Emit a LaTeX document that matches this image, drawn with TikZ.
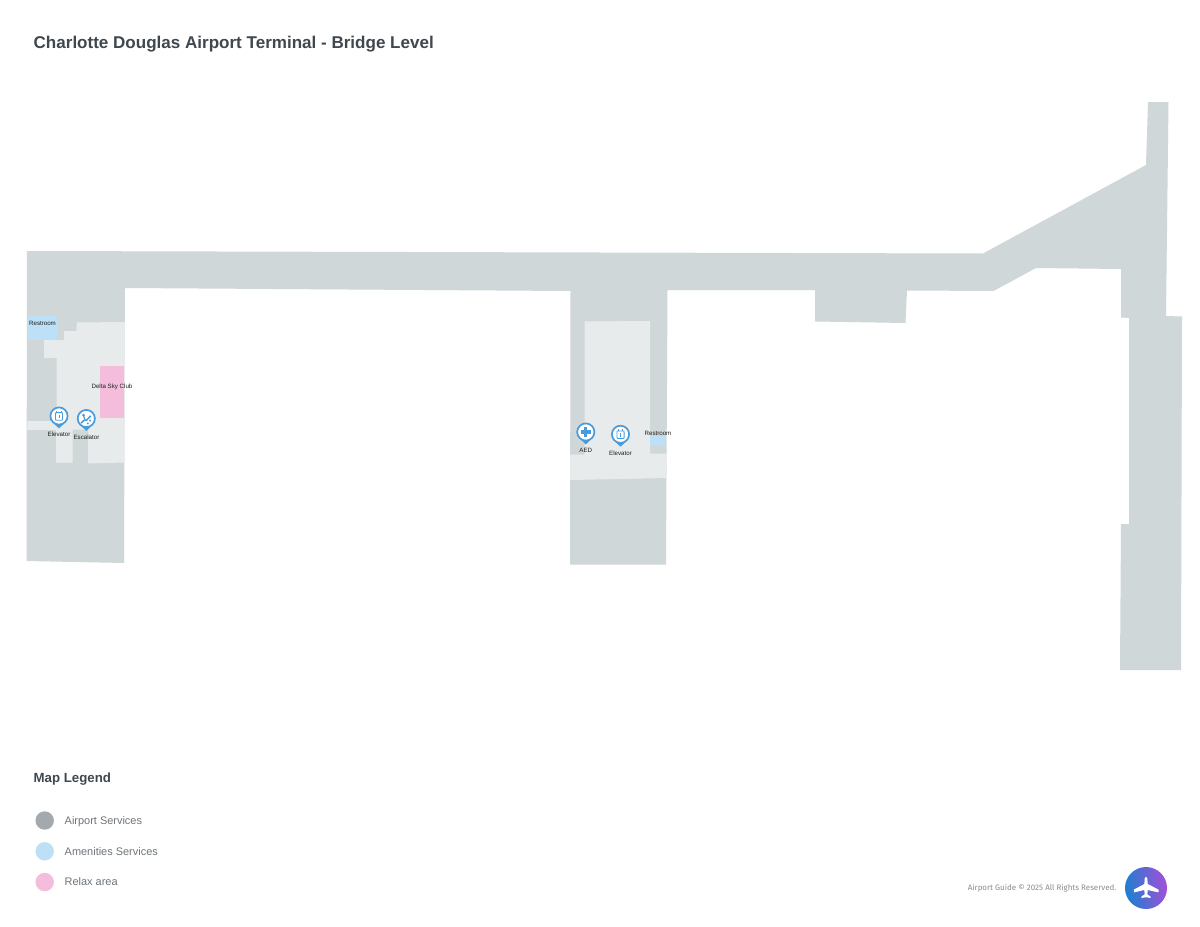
\documentclass[tikz,border=0pt]{standalone}
\usepackage{fontspec}
\setmainfont{Liberation Sans}
\newfontfamily\footfont{Fira Sans}
\definecolor{floorgray}{HTML}{D0D7D9}
\definecolor{floorlight}{HTML}{E8EBEC}
\definecolor{amenity}{HTML}{BEE0F7}
\definecolor{relax}{HTML}{F4BDDC}
\definecolor{service}{HTML}{A2AAAF}
\definecolor{pinblue}{HTML}{4A9BDC}
\definecolor{titleink}{HTML}{3F474F}
\definecolor{legendink}{HTML}{6E757B}
\definecolor{logoblue}{HTML}{1C80D0}
\definecolor{logopurple}{HTML}{A24FD8}
\tikzset{
  floor/.style={fill=floorgray,draw=none},
  lightfloor/.style={fill=floorlight,draw=none},
  maplabel/.style={font=\fontsize{6.2}{7}\selectfont,text=black!88,inner sep=0pt},
  legendlabel/.style={font=\fontsize{11}{13}\selectfont,text=legendink,anchor=base west,inner sep=0pt},
  headline/.style={text=titleink,anchor=base west,inner sep=0pt},
  legenddot/.style={circle,minimum size=18.5,inner sep=0pt,draw=none},
  pinicon/.style={draw=pinblue,line width=0.8,fill=none},
  pin/.pic={
    \fill[pinblue] (-4.8,7.8) -- (0,12.4) -- (4.8,7.8) -- cycle;
    \draw[pinblue,fill=white,line width=1.7] (0,0) circle (8.6);
  }
}
\begin{document}
\begin{tikzpicture}[x=1bp,y=-1bp]
\useasboundingbox (0,0) rectangle (1200,927);
\fill[white] (0,0) rectangle (1200,927);
% terminal
\fill[floor] (27,251) -- (983,253.5) -- (1146,165) -- (1148,102) -- (1168.5,102) -- (1166,316) -- (1182,316.5)
  -- (1181,670) -- (1120,670) -- (1121,524) -- (1129,524) -- (1129,318) -- (1121,317.5) -- (1121,269) -- (1036,268)
  -- (993.5,291) -- (907,290.5) -- (905.5,323) -- (815,321.5) -- (815,290) -- (667.5,290) -- (666,564.5) -- (570,564.5)
  -- (570.5,291) -- (125,288) -- (124,563) -- (26.5,561) -- cycle;
% walkable areas
\fill[lightfloor] (125,322) -- (76.5,322.5) -- (76.5,331) -- (64,331) -- (64,340) -- (44,340) -- (44,358) -- (56.5,358)
  -- (56.5,421) -- (27.3,421) -- (27.3,430) -- (56,430) -- (56,462.5) -- (72.5,462.5) -- (72.5,429.5) -- (88,429.5)
  -- (88,463.5) -- (124.5,462.5) -- cycle;
\fill[lightfloor] (584.5,321.5) -- (650,321) -- (650,453.5) -- (667,453.5) -- (666.5,478) -- (570,480) -- (570,454.5) -- (584.5,454.5) -- cycle;
% coloured rooms
\fill[amenity] (27.5,316) rectangle (57,340);
\fill[relax] (100,365.5) rectangle (124.3,417.5);
\fill[amenity] (649.5,436) rectangle (666.3,446);
% title
\node[headline,font=\bfseries\fontsize{17.1}{20}\selectfont] (title) at (33.5,48.5) {Charlotte Douglas Airport Terminal - Bridge Level};
% room labels
\node[maplabel] (rest1) at (42.5,323.5) {Restroom};
\node[maplabel] (delta) at (112,386.5) {Delta Sky Club};
\node[maplabel] (rest2) at (658,433) {Restroom};
% pins
\pic at (59,416) {pin};
\pic at (86.3,418.5) {pin};
\pic at (585.8,432) {pin};
\pic at (620.5,434.3) {pin};
% elevator icons
\foreach \cx/\cy in {59/416,620.5/434.3}{
  \draw[pinicon,rounded corners=0.8] (\cx-3.6,\cy-3.4) rectangle (\cx+3.6,\cy+4.2);
  \draw[pinicon,line width=0.9] (\cx,\cy-1.4) -- (\cx,\cy+2.2);
  \draw[pinicon,line width=0.9] (\cx-2.2,\cy-5) -- (\cx-2.2,\cy-3.4) (\cx+2.2,\cy-5) -- (\cx+2.2,\cy-3.4);
}
% escalator icon
\draw[pinblue,line width=1.5] (81.2,423) -- (84.3,420) -- (86.8,420) -- (90.6,415.8);
\fill[pinblue] (83.6,415.2) circle (1.6);
\draw[pinblue,line width=1.2] (83.6,416) -- (85,419.4);
\fill[pinblue] (90.2,420.6) circle (1.1);
\fill[pinblue] (87.8,423.4) circle (1.1);
% AED icon
\draw[pinblue,line width=3.1] (580.6,432) -- (591,432) (585.8,426.8) -- (585.8,437.2);
% pin labels
\node[maplabel] (elev1) at (59,434.5) {Elevator};
\node[maplabel] (escal) at (86.5,437) {Escalator};
\node[maplabel] (aed) at (585.8,450.3) {AED};
\node[maplabel] (elev2) at (620.5,453) {Elevator};
% legend
\node[headline,font=\bfseries\fontsize{13.3}{16}\selectfont] (legend) at (33.5,782) {Map Legend};
\node[legenddot,fill=service] (d1) at (44.7,820.5) {};
\node[legenddot,fill=amenity] (d2) at (44.7,851.3) {};
\node[legenddot,fill=relax] (d3) at (44.7,882) {};
\node[legendlabel] (l1) at (64.5,824) {Airport Services};
\node[legendlabel] (l2) at (64.5,855) {Amenities Services};
\node[legendlabel] (l3) at (64.5,885.7) {Relax area};
% footer
\node[font=\footfont\fontsize{8}{10}\selectfont,text=black!45,anchor=east,inner sep=0pt] (copy) at (1116.5,888) {Airport Guide © 2025 All Rights Reserved.};
\shade[left color=logoblue,right color=logopurple,shading angle=100] (1146,888) circle (21);
% plane
\fill[white,rounded corners=0.5] (1144.6,879) .. controls (1145,876) and (1147,876) .. (1147.4,879)
  -- (1147.6,884) -- (1158.6,889.6) -- (1158.6,892.4) -- (1147.6,890) -- (1147.4,894.6) -- (1150.6,896.4) -- (1150.6,898)
  -- (1146,897.2) -- (1141.4,898) -- (1141.4,896.4) -- (1144.6,894.6) -- (1144.4,890) -- (1133.8,892.4) -- (1133.8,889.6) -- (1144.4,884) -- cycle;
\end{tikzpicture}
\end{document}
